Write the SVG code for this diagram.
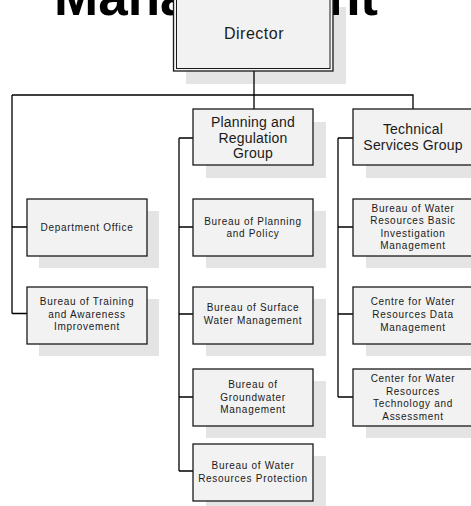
<svg xmlns="http://www.w3.org/2000/svg" width="471" height="506" viewBox="0 0 471 506">
<style>
.title{font-family:"Liberation Sans",Arial,sans-serif;font-weight:bold;font-size:53px;fill:#000}
.sh{fill:#e4e4e4}
.bx{fill:#f2f2f2;stroke:#1a1a1a;stroke-width:1.3}
.t{font-family:"Liberation Sans",Arial,sans-serif;font-size:10px;letter-spacing:0.7px;fill:#1a1a1a;text-anchor:middle}
.tg{font-family:"Liberation Sans",Arial,sans-serif;font-size:14px;letter-spacing:0.2px;fill:#1a1a1a;text-anchor:middle}
.td{font-family:"Liberation Sans",Arial,sans-serif;font-size:16px;letter-spacing:0.5px;fill:#1a1a1a;text-anchor:middle}
.c{fill:none;stroke:#000;stroke-width:1.3}
</style>
<rect class="sh" x="186" y="7" width="160" height="77"/>
<text class="title" x="54" y="15">Management</text>
<g id="connectors">
<path class="c" d="M254 71V109M12 95H413V109M12 95V313.5M12 227H27M12 313.5H27"/>
<path class="c" d="M179 138V471M179 138H193M179 227H193M179 314H193M179 397H193M179 471H193"/>
<path class="c" d="M338 138V397M338 138H353M338 227H353M338 314H353M338 397H353"/>
</g>
<g id="director">
<rect class="bx" x="173.5" y="-5" width="159.5" height="76"/>
<rect fill="none" stroke="#1a1a1a" stroke-width="1" x="176.5" y="-5" width="153.5" height="73.5"/>
<text class="td" x="254" y="38.5">Director</text>
</g>
<g id="planning">
<rect class="sh" x="206" y="122" width="120" height="56"/>
<rect class="bx" x="193" y="109" width="120" height="56"/>
<text class="tg" x="253" y="127">Planning and</text>
<text class="tg" x="253" y="142.5">Regulation</text>
<text class="tg" x="253" y="158">Group</text>
</g>
<g id="technical">
<rect class="sh" x="366" y="122" width="120" height="56"/>
<rect class="bx" x="353" y="109" width="120" height="56"/>
<text class="tg" x="413" y="134">Technical</text>
<text class="tg" x="413" y="150">Services Group</text>
</g>
<g id="dept">
<rect class="sh" x="39" y="211" width="120" height="57"/>
<rect class="bx" x="27" y="199" width="120" height="57"/>
<text class="t" x="87" y="230.5">Department Office</text>
</g>
<g id="training">
<rect class="sh" x="39" y="299" width="120" height="57"/>
<rect class="bx" x="27" y="287" width="120" height="57"/>
<text class="t" x="87" y="305">Bureau of Training</text>
<text class="t" x="87" y="317.5">and Awareness</text>
<text class="t" x="87" y="330">Improvement</text>
</g>
<g id="policy">
<rect class="sh" x="206" y="211" width="120" height="57"/>
<rect class="bx" x="193" y="199" width="120" height="57"/>
<text class="t" x="253" y="224.5">Bureau of Planning</text>
<text class="t" x="253" y="237">and Policy</text>
</g>
<g id="surface">
<rect class="sh" x="206" y="299" width="120" height="57"/>
<rect class="bx" x="193" y="287" width="120" height="57"/>
<text class="t" x="253" y="311">Bureau of Surface</text>
<text class="t" x="253" y="324">Water Management</text>
</g>
<g id="groundwater">
<rect class="sh" x="206" y="381" width="120" height="57"/>
<rect class="bx" x="193" y="369" width="120" height="57"/>
<text class="t" x="253" y="388">Bureau of</text>
<text class="t" x="253" y="400.5">Groundwater</text>
<text class="t" x="253" y="413">Management</text>
</g>
<g id="protection">
<rect class="sh" x="206" y="456" width="120" height="57"/>
<rect class="bx" x="193" y="444" width="120" height="57"/>
<text class="t" x="253" y="469">Bureau of Water</text>
<text class="t" x="253" y="482">Resources Protection</text>
</g>
<g id="basic">
<rect class="sh" x="366" y="211" width="120" height="57"/>
<rect class="bx" x="353" y="199" width="120" height="57"/>
<text class="t" x="413" y="211.5">Bureau of Water</text>
<text class="t" x="413" y="224">Resources Basic</text>
<text class="t" x="413" y="236.5">Investigation</text>
<text class="t" x="413" y="249">Management</text>
</g>
<g id="data">
<rect class="sh" x="366" y="299" width="120" height="57"/>
<rect class="bx" x="353" y="287" width="120" height="57"/>
<text class="t" x="413" y="304.5">Centre for Water</text>
<text class="t" x="413" y="317.5">Resources Data</text>
<text class="t" x="413" y="330.5">Management</text>
</g>
<g id="techassess">
<rect class="sh" x="366" y="381" width="120" height="57"/>
<rect class="bx" x="353" y="369" width="120" height="57"/>
<text class="t" x="413" y="382">Center for Water</text>
<text class="t" x="413" y="394.5">Resources</text>
<text class="t" x="413" y="407">Technology and</text>
<text class="t" x="413" y="419.5">Assessment</text>
</g>
</svg>
